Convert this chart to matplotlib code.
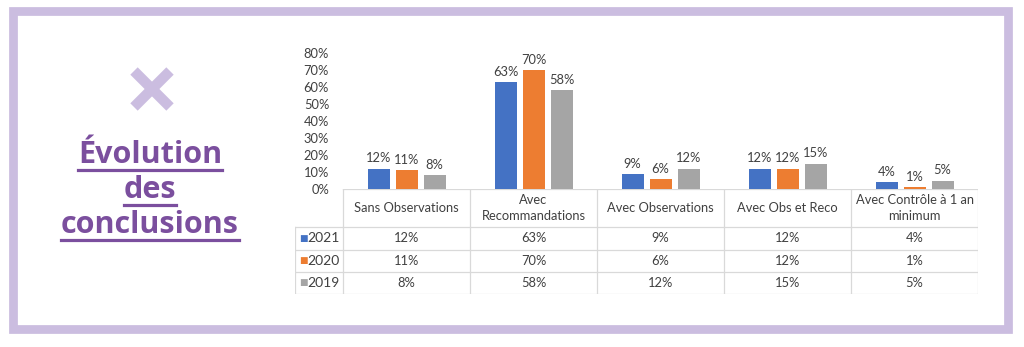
import matplotlib.pyplot as plt
import numpy as np
from matplotlib.patches import Rectangle
from matplotlib.lines import Line2D

# data
categories = ["Sans Observations", "Avec\nRecommandations", "Avec Observations",
              "Avec Obs et Reco", "Avec Contrôle à 1 an\nminimum"]
years = ["2021", "2020", "2019"]
v2021 = [12, 63, 9, 12, 4]
v2020 = [11, 70, 6, 12, 1]
v2019 = [8, 58, 12, 15, 5]
yticks = [0, 10, 20, 30, 40, 50, 60, 70, 80]
title_lines = ["Évolution", "des", "conclusions"]

colors = ["#4472C4", "#ED7D31", "#A5A5A5"]
txt = "#404040"
grid = "#d9d9d9"
lav = "#cbbde0"
purple = "#7b4f9e"
W, H = 1024, 347
fs = 9.3

fig = plt.figure(figsize=(W / 100, H / 100), dpi=100)
fig.patch.set_facecolor("white")


def fx(px):
    return px / W


def fy(py):
    return 1 - py / H


# lavender frame
fig.patches.append(Rectangle((fx(12.5), fy(329)), fx(1008) - fx(12.5), fy(11) - fy(329),
                             transform=fig.transFigure, fill=False, ec=lav, lw=6.3))

# cross mark
for (x0, y0, x1, y1) in [(134, 71, 170, 107), (134, 107, 170, 71)]:
    fig.lines.append(Line2D([fx(x0), fx(x1)], [fy(y0), fy(y1)], transform=fig.transFigure,
                            color=lav, lw=7.5, solid_capstyle="butt"))

# title, underlined
baselines = [163, 198, 233]
fig.canvas.draw()
r = fig.canvas.get_renderer()
for line, b in zip(title_lines, baselines):
    t = fig.text(fx(150), fy(b), line, ha="center", va="baseline", fontsize=22,
                 fontweight="bold", color=purple, family="Open Sans")
    bb = t.get_window_extent(renderer=r)
    fig.lines.append(Line2D([bb.x0 / W, bb.x1 / W], [fy(b + 7), fy(b + 7)],
                            transform=fig.transFigure, color=purple, lw=2.3))

# bar chart
L, R, T, B = 343, 978, 53, 189
ax = fig.add_axes([fx(L), fy(B), fx(R) - fx(L), fy(T) - fy(B)])
x = np.arange(len(categories))
step = 28 / 127
bw = 22 / 127
for i, (vals, c) in enumerate(zip([v2021, v2020, v2019], colors)):
    bars = ax.bar(x + (i - 1) * step, vals, bw, color=c)
    for rect, v in zip(bars, vals):
        ax.annotate(f"{v}%", (rect.get_x() + rect.get_width() / 2, v), xytext=(0, 3),
                    textcoords="offset points", ha="center", va="bottom",
                    fontsize=fs, color=txt, family="Lato")
ax.set_xlim(-0.5, len(categories) - 0.5)
ax.set_ylim(0, 80)
ax.set_yticks(yticks)
ax.set_yticklabels([f"{v}%" for v in yticks], fontsize=fs, color=txt, family="Lato")
ax.tick_params(axis="y", length=0, pad=10)
ax.set_xticks([])
for s in ax.spines.values():
    s.set_visible(False)
ax.patch.set_alpha(0)

# data table below
TL, TB = 295, 294
tax = fig.add_axes([fx(TL), fy(TB), fx(R) - fx(TL), fy(B) - fy(TB)])
lab_w = (L - TL) / 127
tax.set_xlim(-0.5 - lab_w, len(categories) - 0.5)
tax.set_ylim(TB - B, 0)
tax.axis("off")
rows = [0, 38, 61, 83, 105]
edges = np.arange(len(categories) + 1) - 0.5
kw = dict(color=grid, lw=0.9)
tax.plot([edges[0], edges[-1]], [0, 0], **kw)
for yy in rows[1:]:
    tax.plot([-0.5 - lab_w, edges[-1]], [yy, yy], **kw)
for xx in edges:
    tax.plot([xx, xx], [0, rows[-1]], **kw)
tax.plot([-0.5 - lab_w] * 2, [rows[1], rows[-1]], **kw)

for j, cat in enumerate(categories):
    tax.text(j, rows[1] / 2, cat, ha="center", va="center", fontsize=fs, color=txt,
             family="Lato", linespacing=1.3)
for i, (yr, vals, c) in enumerate(zip(years, [v2021, v2020, v2019], colors)):
    yc = (rows[i + 1] + rows[i + 2]) / 2
    tax.text(-0.5 - lab_w + 0.03, yc, "■", ha="left", va="center", fontsize=6.5,
             color=c, family="DejaVu Sans")
    tax.text(-0.5 - lab_w + 0.1, yc, yr, ha="left", va="center", fontsize=10,
             color=txt, family="Lato")
    for j, v in enumerate(vals):
        tax.text(j, yc, f"{v}%", ha="center", va="center", fontsize=fs, color=txt,
                 family="Lato")

fig.savefig("out.png", dpi=100)
